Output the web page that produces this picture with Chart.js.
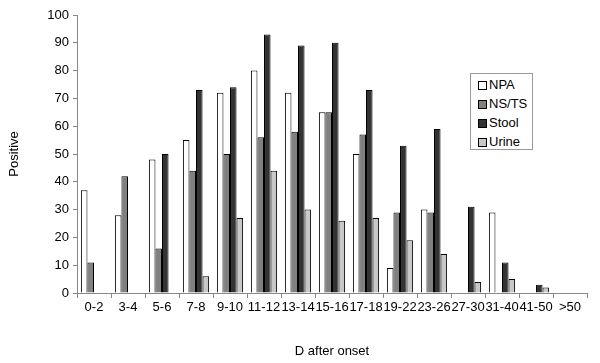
<!DOCTYPE html>
<html>
<head>
<meta charset="utf-8">
<script src="https://cdn.jsdelivr.net/npm/chart.js@4/dist/chart.umd.min.js"></script>
<style>
  body { margin: 0; background: #fff; }
  #wrap { position: relative; width: 600px; height: 363px; }
  #legend {
    position: absolute; left: 470px; top: 73px; width: 63px; height: 77px;
    border: 1px solid #999; background: #fff;
    font: 13px "Liberation Sans", Arial, sans-serif; color: #000;
    box-sizing: border-box; padding: 1px 0 0 7px;
  }
  #legend div { height: 19px; line-height: 19px; white-space: nowrap; }
  #legend span {
    display: inline-block; width: 7px; height: 7px; border: 1px solid #000;
    margin-right: 2px; vertical-align: -1px;
  }
</style>
</head>
<body>
<div id="wrap">
  <canvas id="mycanvas" width="600" height="363"></canvas>
  <div id="legend"></div>
</div>
<script>
var days = ["0-2", "3-4", "5-6", "7-8", "9-10", "11-12", "13-14", "15-16", "17-18", "19-22", "23-26", "27-30", "31-40", "41-50", ">50"];
var npa   = [37, 28, 48, 55, 72, 80, 72, 65, 50, 9, 30, 0, 29, 0, 0];
var nsts  = [11, 42, 16, 44, 50, 56, 58, 65, 57, 29, 29, 0, 0, 0, 0];
var stool = [0, 0, 50, 73, 74, 93, 89, 90, 73, 53, 59, 31, 11, 3, 0];
var urine = [0, 0, 0, 6, 27, 44, 30, 26, 27, 19, 14, 4, 5, 2, 0];

var names = ["NPA", "NS/TS", "Stool", "Urine"];
var fills = ["#ffffff", "#808080", "#333333", "#c8c8c8"];
var series = [npa, nsts, stool, urine];

var datasets = [];
for (var i in series) {
  datasets.push({
    label: names[i],
    data: series[i],
    backgroundColor: fills[i],
    borderColor: "#000",
    borderWidth: 1,
    borderSkipped: "bottom",
    barPercentage: 1,
    categoryPercentage: 0.77
  });
}

var legend = document.getElementById("legend");
for (var j in names) {
  var row = document.createElement("div");
  row.innerHTML = '<span style="background:' + fills[j] + '"></span>' + names[j];
  legend.appendChild(row);
}

var font = { family: "'Liberation Sans', Arial, sans-serif", size: 13 };

new Chart(document.getElementById("mycanvas"), {
  type: "bar",
  data: { labels: days, datasets: datasets },
  options: {
    responsive: false,
    animation: false,
    layout: { padding: { left: 0, right: 13, top: 15, bottom: 0 } },
    plugins: { legend: { display: false }, tooltip: { enabled: false } },
    scales: {
      x: {
        grid: { display: true, drawOnChartArea: false, offset: true, tickLength: 5, color: "#888" },
        border: { color: "#888" },
        ticks: { color: "#000", font: font, maxRotation: 0, autoSkip: false, padding: 2 },
        title: { display: true, text: "D after onset", color: "#000", font: font, padding: { top: 21 } },
        afterFit: function(s) { s.height = 70; }
      },
      y: {
        min: 0, max: 100,
        grid: { display: true, drawOnChartArea: false, tickLength: 4, color: "#888" },
        border: { color: "#888" },
        ticks: { stepSize: 10, color: "#000", font: font, padding: 4 },
        title: { display: true, text: "Positive", color: "#000", font: font, padding: { top: 7, bottom: 20 } },
        afterFit: function(s) { s.width = 77; }
      }
    }
  }
});
</script>
</body>
</html>
